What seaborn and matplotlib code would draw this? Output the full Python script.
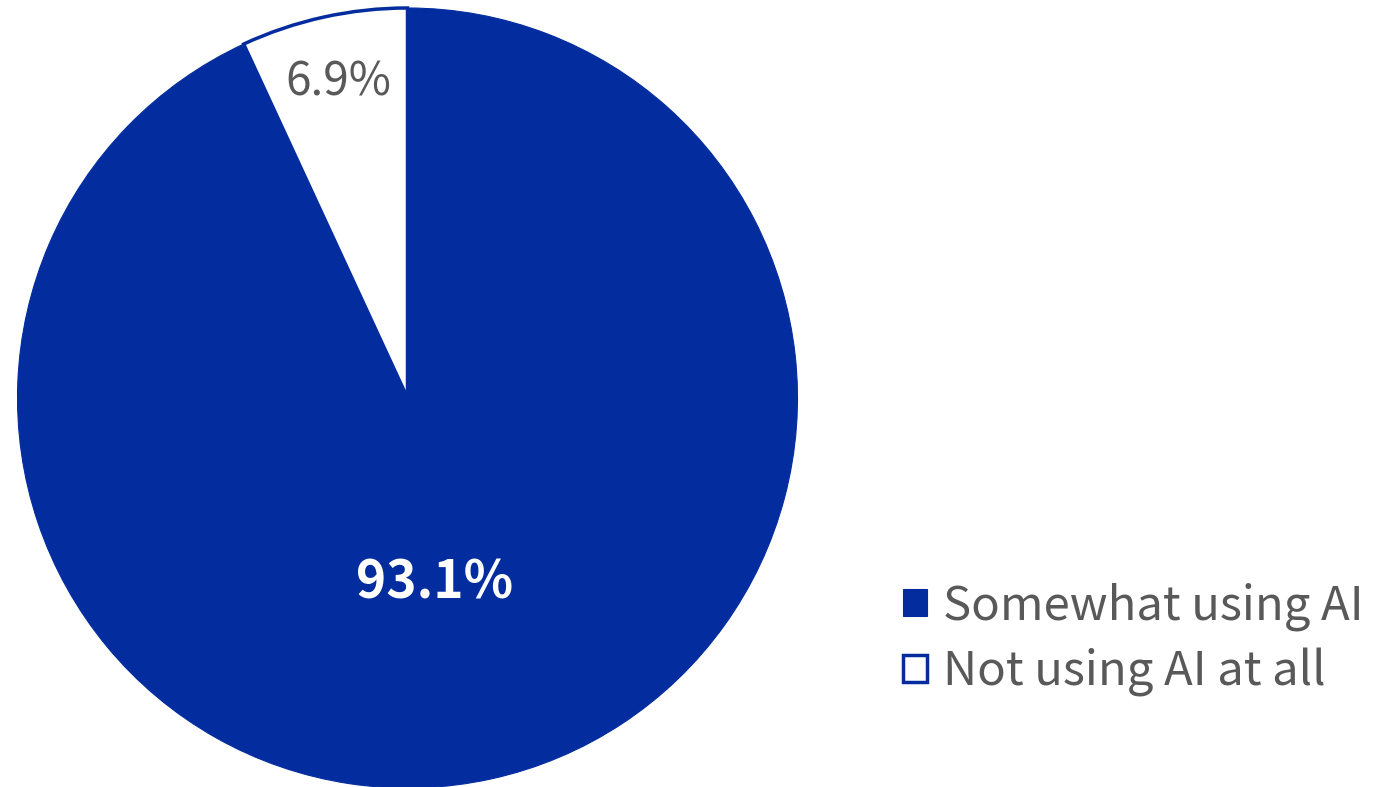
import matplotlib
matplotlib.use("Agg")
import matplotlib.pyplot as plt
import seaborn as sns
import numpy as np

categories = ["Somewhat using AI", "Not using AI at all"]
values = [93.1, 6.9]
labels = ["93.1%", "6.9%"]

BLUE = "#032D9F"
GREY = "#595959"

sns.set_theme(style="white")
plt.rcParams['font.family'] = ['Noto Sans CJK JP', 'DejaVu Sans']

fig = plt.figure(figsize=(13.83, 7.87), dpi=100)
W, H = 1383, 787
cx, cy, r = 407.5, 398, 390
ax = fig.add_axes([(cx - r) / W, (H - cy - r) / H, 2 * r / W, 2 * r / H])

wedges, _ = ax.pie(values, colors=[BLUE, "white"], startangle=90, counterclock=False,
                   wedgeprops=dict(edgecolor=BLUE, linewidth=2.5), radius=1)
wedges[0].set_linewidth(0.8)

dists = [0.486, 0.83]
xshift = [-0.035, 0.0]
styles = [dict(color="white", fontsize=37, fontweight="bold"),
          dict(color=GREY, fontsize=33)]
for w, lab, d, dx, st in zip(wedges, labels, dists, xshift, styles):
    ang = np.deg2rad((w.theta1 + w.theta2) / 2)
    ax.text(d * np.cos(ang) + dx, d * np.sin(ang), lab, ha="center", va="center", **st)

ax.set_xlim(-1, 1)
ax.set_ylim(-1, 1)
ax.set_aspect("equal")
ax.axis("off")

leg = fig.legend(wedges, categories, loc="upper left",
                 bbox_to_anchor=(903 / W, 1 - 582 / H), frameon=False,
                 fontsize=34, handlelength=0.5, handleheight=0.5,
                 handletextpad=0.35, labelspacing=0.35, borderpad=0, borderaxespad=0)
for t in leg.get_texts():
    t.set_color(GREY)

fig.savefig("out.png", dpi=100)
